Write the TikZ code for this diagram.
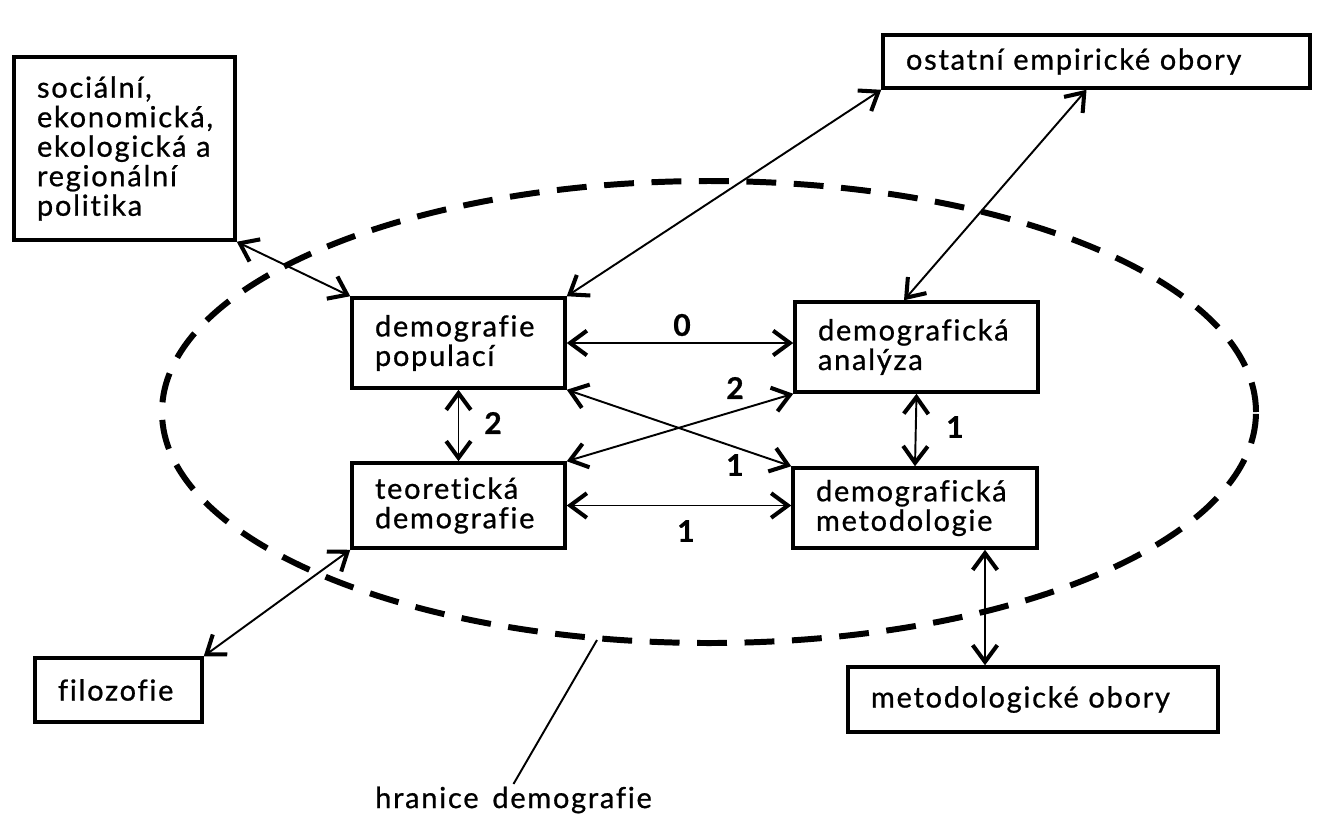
\documentclass[tikz,border=0pt]{standalone}
\usepackage{fontspec}
\setmainfont{Lato}[LetterSpace=6,WordSpace=1.5,Ligatures=CommonOff,FakeBold=0.8]
\usepackage{tikz}
\usetikzlibrary{arrows.meta}

\begin{document}
\begin{tikzpicture}[line width=1.1pt,
    font=\fontsize{16.5}{16.8}\selectfont,
    >={Straight Barb[length=9.5pt,width=14pt,line width=2.3pt]},
    box/.style={draw,rectangle,line width=2pt,align=left,inner xsep=0.46cm,inner ysep=0pt},
    link/.style={<->},
    num/.style={font=\fontsize{17}{16}\selectfont\bfseries}]
      \useasboundingbox (0,0) rectangle (26.76,-16.44);

      % hranice
      \draw [line width=3.4pt,dash pattern=on 17pt off 10pt] (14.18,-8.24) ellipse [x radius=10.94,y radius=4.62];

      \node [box,text width=3.50cm,minimum height=3.66cm] (pol) at (2.49,-2.97) {%
        sociální,\\ekonomická,\\ekologická a\\regionální\\politika};
      \node [box,text width=7.62cm,minimum height=1.06cm] (emp) at (21.93,-1.23) {ostatní empirické obory};
      \node [box,text width=3.34cm,minimum height=1.80cm] (pop) at (9.17,-6.86) {demografie\\populací};
      \node [box,text width=3.94cm,minimum height=1.80cm] (ana) at (18.33,-6.94) {demografická\\analýza};
      \node [box,text width=3.34cm,minimum height=1.70cm] (teo) at (9.17,-10.11) {teoretická\\demografie};
      \node [box,text width=3.96cm,minimum height=1.60cm] (met) at (18.30,-10.16) {demografická\\metodologie};
      \node [box,text width=2.42cm,minimum height=1.28cm] (fil) at (2.37,-13.80) {filozofie};
      \node [box,text width=6.48cm,minimum height=1.30cm] (obo) at (20.66,-13.99) {metodologické obory};

      \node [inner sep=1pt] (hr) at (10.27,-16.0) {hranice demografie};
      \coordinate (hrb) at (11.94,-12.80);
      \draw (hr.north) -- (hrb);

      \draw [link] (pol.south east) -- (pop.north west);
      \draw [link] (emp.south west) -- (pop.north east);
      \draw [link] ([xshift=-0.2cm]emp.south) -- ([xshift=-0.25cm]ana.north);
      \draw [link] (pop.east) -- (pop.east -| ana.west);
      \draw [link] (pop.south) -- (teo.north);
      \draw [link] (ana.south) -- (met.north);
      \draw [link] (pop.south east) -- (met.north west);
      \draw [link] (teo.north east) -- (ana.south west);
      \draw [link] (teo.east) -- (teo.east -| met.west);
      \draw [link] (teo.south west) -- (fil.north east);
      \draw [link] ([xshift=1.4cm]met.south) -- ([xshift=1.4cm]met.south |- obo.north);

      \node [num] (n0) at (13.64,-6.50) {0};
      \node [num] (n1) at (9.86,-8.46) {2};
      \node [num] (n2) at (19.10,-8.54) {1};
      \node [num] (n3) at (14.70,-7.76) {2};
      \node [num] (n4) at (14.70,-9.30) {1};
      \node [num] (n5) at (13.72,-10.62) {1};
    \end{tikzpicture}
\end{document}
